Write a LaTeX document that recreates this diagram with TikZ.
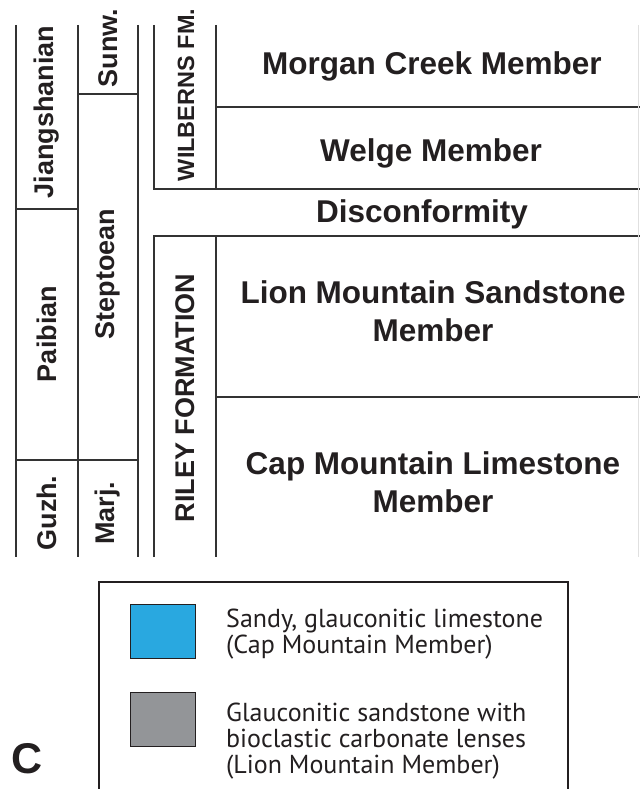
\documentclass[tikz,border=0pt]{standalone}
\usepackage{fontspec}
\setmainfont{Liberation Sans}
\newfontfamily\legendfont{PT Sans}
\usepackage{xcolor}
\usetikzlibrary{positioning}
\definecolor{ink}{HTML}{231F20}
\definecolor{rulegray}{HTML}{333333}
\definecolor{capblue}{HTML}{29A8E0}
\definecolor{liongray}{HTML}{939598}

\begin{document}
\begin{tikzpicture}[
  x=1pt, y=-1pt,
  rule/.style={line width=2pt, draw=rulegray},
  faint/.style={line width=1pt, draw=black!12},
  rowtext/.style={font=\bfseries\fontsize{31.5}{38}\selectfont, text=ink, align=center},
  coltext/.style={font=\bfseries\fontsize{27}{30}\selectfont, text=ink, rotate=90},
  legtext/.style={font=\legendfont\fontsize{26}{26}\selectfont, text=ink, align=left, anchor=west, inner sep=0pt},
  swatch/.style={draw=ink, line width=0.8pt}
]
\useasboundingbox (0,0) rectangle (640,789);

% stage columns
\draw[rule] (16,25) -- (16,557);
\draw[rule] (78,25) -- (78,557);
\draw[rule] (138,25) -- (138,557);
\draw[rule] (16,209) -- (78,209);
\draw[rule] (78,94) -- (138,94);
\draw[rule] (16,460) -- (138,460);

% Wilberns Fm.
\draw[rule] (154,25) -- (154,189) -- (640,189);
\draw[rule] (216,25) -- (216,189);
\draw[rule] (216,107) -- (640,107);

% Riley Formation
\draw[rule] (154,557) -- (154,236) -- (640,236);
\draw[rule] (216,236) -- (216,557);
\draw[rule] (216,397) -- (640,397);
\draw[faint] (638,25) -- (638,557);

\node[coltext] (jiang) at (47,112) {Jiangshanian};
\node[coltext] (paib) at (47,334) {Paibian};
\node[coltext] (guzh) at (47,513) {Guzh.};
\node[coltext] (sunw) at (108,48) {Sunw.};
\node[coltext] (stept) at (108,274) {Steptoean};
\node[coltext] (marj) at (108,513) {Marj.};
\node[coltext, font=\bfseries\fontsize{23.5}{27}\selectfont] (wilb) at (186,95) {WILBERNS FM.};
\node[coltext] (riley) at (185,398) {RILEY FORMATION};

\node[rowtext] (morgan) at (432,66) {Morgan Creek Member};
\node[rowtext] (welge) at (431,153) {Welge Member};
\node[rowtext] (discon) at (422,214) {Disconformity};
\node[rowtext] (lion) at (433,311) {Lion Mountain Sandstone\\Member};
\node[rowtext] (cap) at (433,482) {Cap Mountain Limestone\\Member};

% legend
\draw[line width=1.8pt, draw=ink] (99,789) -- (99,582) -- (568,582) -- (568,789);
\draw[swatch, fill=capblue] (130,604) rectangle (195,658);
\draw[swatch, fill=liongray] (130,692) rectangle (195,746);
\node[legtext] (capkey) at (226,634) {Sandy, glauconitic limestone\\(Cap Mountain Member)};
\node[legtext] (lionkey) at (226,741) {Glauconitic sandstone with\\bioclastic carbonate lenses\\(Lion Mountain Member)};
\node[font=\bfseries\fontsize{43}{46}\selectfont, text=ink] (panel) at (27,759) {C};
\end{tikzpicture}
\end{document}
